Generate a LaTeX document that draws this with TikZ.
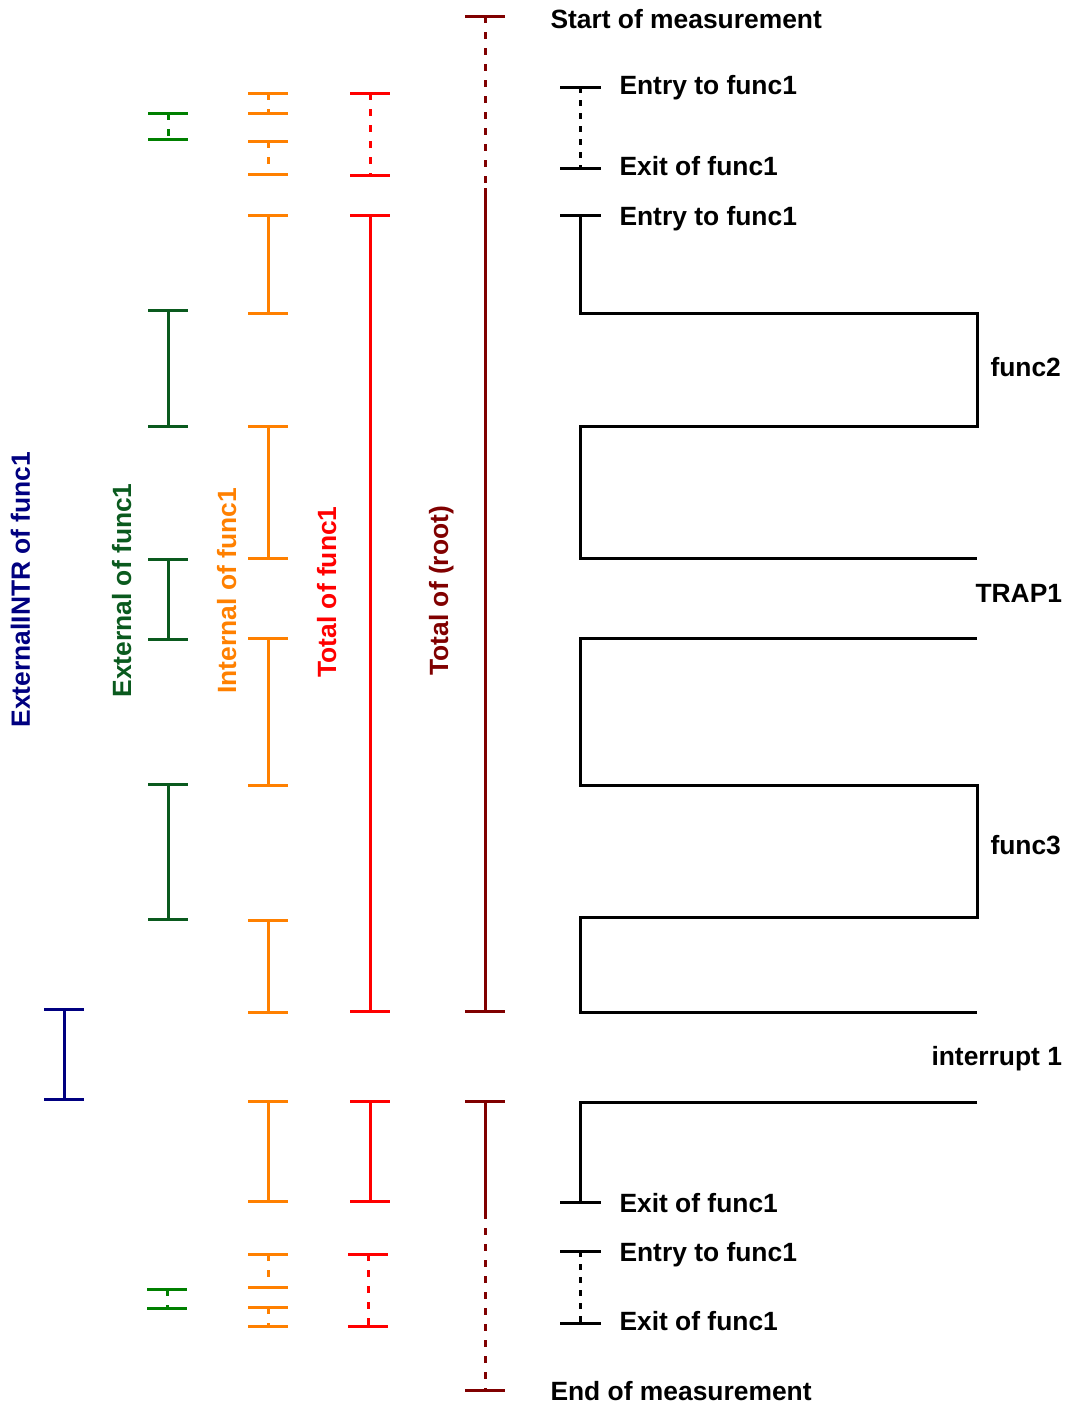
\documentclass[tikz,border=0pt]{standalone}
\usepackage{fontspec}
\setmainfont{Liberation Sans}
\definecolor{rootc}{RGB}{128,0,0}
\definecolor{totc}{RGB}{255,0,0}
\definecolor{intc}{RGB}{255,128,0}
\definecolor{extc}{RGB}{10,90,30}
\definecolor{extd}{RGB}{0,128,0}
\definecolor{intrc}{RGB}{0,0,128}
\newcommand\IBar[5][]{%
  \draw[#2] (#3-20,#4) -- (#3+20,#4) (#3-20,#5) -- (#3+20,#5);
  \draw[#2,#1] (#3,#4) -- (#3,#5);}
\begin{document}
\begin{tikzpicture}[x=1pt,y=-1pt,line width=3pt,
  lbl/.style={font=\fontsize{26.4}{30}\selectfont\bfseries,inner sep=0pt,anchor=base west},
  vlbl/.style={lbl,rotate=90},
  cdash/.style={dash pattern=on 7pt off 9pt},
  kdash/.style={dash pattern=on 6pt off 7pt}]
\useasboundingbox (0,0) rectangle (1075,1409);
% ---- root (maroon)
\draw[rootc] (465,16) -- (505,16) (465,1011) -- (505,1011);
\draw[rootc,cdash] (485,16) -- (485,188);
\draw[rootc] (485,188) -- (485,1011);
\draw[rootc] (465,1101) -- (505,1101) (465,1390) -- (505,1390);
\draw[rootc] (485,1101) -- (485,1212);
\draw[rootc,cdash] (485,1212) -- (485,1390);
% ---- total of func1 (red)
\IBar[cdash]{totc}{370}{93}{175}
\IBar{totc}{370}{215}{1011}
\IBar{totc}{370}{1101}{1201}
\IBar[cdash]{totc}{368}{1254}{1326}
% ---- internal of func1 (orange)
\IBar[cdash]{intc}{268}{93}{113}
\IBar[cdash]{intc}{268}{141}{174}
\IBar{intc}{268}{215}{313}
\IBar{intc}{268}{426}{558}
\IBar{intc}{268}{638}{785}
\IBar{intc}{268}{920}{1012}
\IBar{intc}{268}{1101}{1201}
\IBar[cdash]{intc}{268}{1254}{1287}
\IBar[cdash]{intc}{268}{1307}{1326}
% ---- external of func1 (green)
\IBar[cdash]{extd}{168}{113}{139}
\IBar{extc}{168}{310}{426}
\IBar{extc}{168}{559}{639}
\IBar{extc}{168}{784}{919}
\IBar[cdash]{extd}{167}{1289}{1308}
% ---- externalINTR (navy)
\IBar{intrc}{64}{1009}{1099}
% ---- black call structure
\draw (560,87) -- (601,87) (560,168) -- (601,168);
\draw[kdash] (580,87) -- (580,168);
\draw (560,215) -- (601,215);
\draw (580,215) -- (580,313) -- (977,313) -- (977,426) -- (580,426) -- (580,558) -- (977,558);
\draw (977,638) -- (580,638) -- (580,785) -- (977,785) -- (977,917) -- (580,917) -- (580,1012) -- (977,1012);
\draw (977,1102) -- (580,1102) -- (580,1202);
\draw (560,1202) -- (601,1202);
\draw (560,1251) -- (601,1251) (560,1323) -- (601,1323);
\draw[kdash] (580,1251) -- (580,1323);
% ---- labels
\node[lbl] (tstart) at (549,28) {Start of measurement};
\node[lbl] (tentry1) at (618,94) {Entry to func1};
\node[lbl] (texit1) at (618,175) {Exit of func1};
\node[lbl] (tentry2) at (618,225) {Entry to func1};
\node[lbl] (tfunc2) at (989,376) {func2};
\node[lbl] (ttrap) at (974,602) {TRAP1};
\node[lbl] (tfunc3) at (989,854) {func3};
\node[lbl] (tintr) at (930,1065) {interrupt 1};
\node[lbl] (texit2) at (618,1212) {Exit of func1};
\node[lbl] (tentry3) at (618,1261) {Entry to func1};
\node[lbl] (texit3) at (618,1330) {Exit of func1};
\node[lbl] (tend) at (549,1400) {End of measurement};
% ---- rotated labels
\node[vlbl,text=intrc] (lintr) at (30,729) {ExternalINTR of func1};
\node[vlbl,text=extc] (lext) at (131,699) {External of func1};
\node[vlbl,text=intc] (lint) at (236,695) {Internal of func1};
\node[vlbl,text=totc] (ltot) at (336,679) {Total of func1};
\node[vlbl,text=rootc] (lroot) at (448,677) {Total of (root)};
\end{tikzpicture}
\end{document}
